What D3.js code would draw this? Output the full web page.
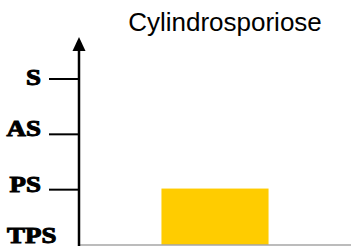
<!DOCTYPE html>
<html>
<head>
<meta charset="utf-8">
<script src="https://cdn.jsdelivr.net/npm/d3@7"></script>
<style>
  body { margin: 0; background: #fff; }
  svg { display: block; }
</style>
</head>
<body>
<div id="chart"></div>
<script>
const levels = ["TPS", "PS", "AS", "S"];
const categories = ["Cylindrosporiose"];
const values = [1.02];

const width = 351, height = 247;

const svg = d3
  .select("#chart")
  .append("svg")
  .attr("width", width)
  .attr("height", height);

const y = d3.scaleLinear().domain([0, 3]).range([245, 79]);
const x = d3
  .scaleBand()
  .domain(categories)
  .range([79, 351])
  .paddingInner(0)
  .paddingOuter(0.77);

// Bars
svg
  .selectAll(".bar")
  .data(values)
  .enter()
  .append("rect")
  .attr("class", "bar")
  .attr("x", (d, i) => x(categories[i]))
  .attr("y", (d) => y(d))
  .attr("width", x.bandwidth())
  .attr("height", (d) => y(0) - y(d))
  .attr("fill", "#ffcc00");

// Baseline
svg
  .append("line")
  .attr("x1", 79)
  .attr("x2", width)
  .attr("y1", y(0))
  .attr("y2", y(0))
  .attr("stroke", "#a6a6a6")
  .attr("stroke-width", 1.5);

// Y axis with arrow
svg
  .append("line")
  .attr("x1", 79)
  .attr("x2", 79)
  .attr("y1", 246)
  .attr("y2", 48)
  .attr("stroke", "#000")
  .attr("stroke-width", 2.5);

svg
  .append("path")
  .attr("d", "M79,37L85.5,51L72.5,51Z")
  .attr("fill", "#000");

// Level ticks (not for the bottom level)
svg
  .selectAll(".tick")
  .data(levels.slice(1))
  .enter()
  .append("line")
  .attr("class", "tick")
  .attr("x1", 49)
  .attr("x2", 79)
  .attr("y1", (d, i) => y(i + 1))
  .attr("y2", (d, i) => y(i + 1))
  .attr("stroke", "#000")
  .attr("stroke-width", 2);

// Level labels, heavy serif
svg
  .selectAll(".level")
  .data(levels)
  .enter()
  .append("text")
  .attr("class", "level")
  .attr("x", (d, i) => (i === 0 ? 7 : 41))
  .attr("y", (d, i) => (i === 0 ? y(i) - 2 : y(i) + (i === 3 ? 6 : 2)))
  .attr("text-anchor", (d, i) => (i === 0 ? "start" : "end"))
  .attr("stroke", "#000")
  .attr("stroke-width", 1)
  .style("font-family", "'Liberation Serif', 'DejaVu Serif', serif")
  .style("font-weight", "bold")
  .style("font-size", "23px")
  .text((d) => d)
  .each(function () {
    const w = this.getComputedTextLength();
    d3.select(this)
      .attr("textLength", w * 1.17)
      .attr("lengthAdjust", "spacingAndGlyphs");
  });

// Title
svg
  .append("text")
  .attr("x", 225)
  .attr("y", 31)
  .attr("text-anchor", "middle")
  .style("font-family", "'Liberation Sans', Arial, sans-serif")
  .style("font-size", "26px")
  .text(categories[0]);
</script>
</body>
</html>
